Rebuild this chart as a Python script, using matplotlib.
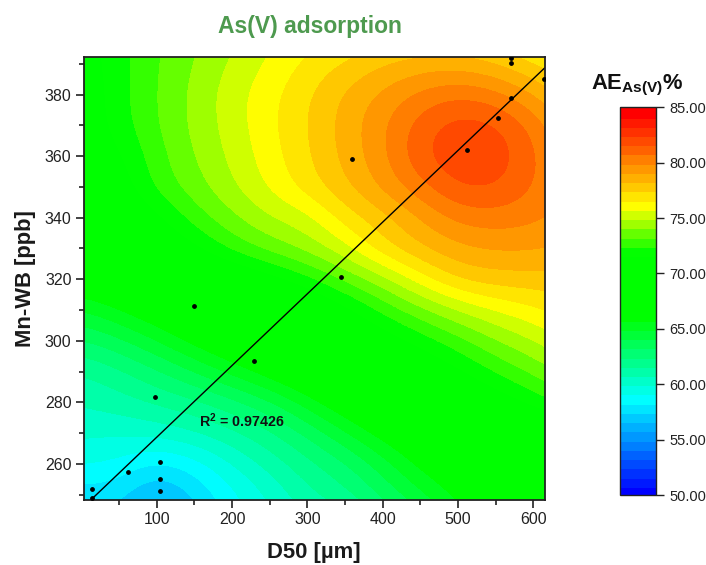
import matplotlib
matplotlib.use("Agg")
import matplotlib.pyplot as plt
import numpy as np
from matplotlib.colors import BoundaryNorm, LinearSegmentedColormap, ListedColormap
from matplotlib.ticker import MultipleLocator

plt.rcParams["font.family"] = ["Liberation Sans", "DejaVu Sans"]
plt.rcParams["mathtext.fontset"] = "custom"
plt.rcParams["mathtext.bf"] = "Liberation Sans:bold"
plt.rcParams["mathtext.rm"] = "Liberation Sans"

# surface on a regular grid, rows go bottom to top
d50 = [0, 50, 100, 150, 200, 250, 300, 350, 400, 450, 500, 550, 600, 650]
mn_wb = [240, 250, 260, 270, 280, 290, 300, 310, 320, 330, 340, 350, 360, 370, 380, 390, 400]
ae = [
    [57.5, 57.3, 55.2, 57.0, 58.7, 59.8, 60.5, 61.0, 62.3, 63.5, 65.0, 66.3, 66.8, 67.0],
    [57.8, 57.8, 56.3, 57.6, 58.9, 60.1, 61.5, 62.2, 63.5, 64.8, 66.2, 67.2, 67.7, 68.2],
    [59.3, 59.0, 58.1, 58.7, 60.0, 61.2, 62.2, 63.2, 64.6, 66.2, 67.0, 67.8, 68.4, 69.1],
    [60.2, 60.1, 60.3, 60.8, 61.5, 62.3, 63.5, 64.9, 66.3, 67.3, 68.2, 69.0, 69.8, 70.5],
    [60.9, 61.3, 61.8, 62.3, 63.0, 64.0, 65.4, 66.8, 68.0, 69.0, 70.0, 71.0, 72.0, 73.0],
    [61.6, 62.3, 63.2, 64.2, 65.3, 66.4, 67.5, 68.5, 69.5, 70.5, 71.5, 72.6, 73.5, 74.6],
    [63.2, 64.0, 65.0, 66.2, 67.2, 68.2, 69.0, 70.0, 71.0, 72.0, 73.0, 74.1, 75.0, 76.0],
    [65.0, 65.8, 66.8, 67.7, 68.5, 69.2, 70.2, 71.3, 72.7, 73.9, 75.0, 75.9, 76.5, 77.2],
    [66.8, 67.6, 68.6, 69.5, 70.3, 71.2, 72.2, 73.5, 74.7, 76.3, 77.7, 78.0, 78.0, 78.0],
    [68.5, 69.3, 70.4, 71.5, 72.8, 73.7, 74.5, 75.6, 77.3, 78.3, 79.0, 79.3, 79.3, 79.0],
    [69.5, 70.3, 71.4, 72.9, 74.0, 75.0, 75.5, 77.1, 78.0, 79.2, 80.3, 80.5, 80.2, 79.7],
    [70.0, 71.0, 72.8, 73.8, 74.9, 76.0, 77.1, 78.2, 79.4, 80.6, 81.8, 81.8, 80.85, 79.7],
    [70.5, 71.5, 73.0, 74.2, 75.2, 76.3, 77.4, 78.6, 79.8, 81.6, 82.4, 82.3, 81.0, 79.6],
    [70.8, 72.1, 73.3, 74.4, 75.4, 76.5, 77.5, 78.7, 79.9, 81.3, 82.2, 81.9, 80.7, 78.7],
    [70.8, 72.2, 73.35, 74.4, 75.5, 76.4, 77.4, 78.5, 79.4, 80.3, 80.8, 80.4, 79.2, 77.9],
    [71.0, 72.2, 73.3, 74.2, 75.15, 76.0, 76.9, 77.6, 78.3, 78.7, 78.8, 78.3, 77.5, 76.5],
    [71.2, 72.2, 73.2, 74.0, 74.8, 75.6, 76.2, 76.6, 77.0, 77.2, 77.2, 76.8, 76.0, 75.7],
]

point_x = [570.2, 570.2, 614.6, 570.0, 552.9, 511.7, 358.8, 344.7, 150.0, 229.0, 98.1, 104.4, 61.4, 104.4, 104.4, 13.6, 13.6]
point_y = [392.0, 390.3, 385.2, 378.9, 372.4, 362.1, 359.2, 320.7, 311.4, 293.5, 281.8, 260.8, 257.4, 255.2, 251.2, 252.0, 249.0]

fit_x = [15.3, 615.0]
fit_y = [249.0, 388.6]

bar_ticks = [50, 55, 60, 65, 70, 75, 80, 85]

# 42 bands, with a long flat green stretch as on the colour scale
levels = np.linspace(50, 85, 43)
centers = 0.5 * (levels[:-1] + levels[1:])
ramp = LinearSegmentedColormap.from_list(
    "ae",
    [
        ((50.4 - 50.4) / 34.2, "#0000ff"),
        ((58.75 - 50.4) / 34.2, "#00ffff"),
        ((66.25 - 50.4) / 34.2, "#00ff00"),
        ((72.08 - 50.4) / 34.2, "#00ff00"),
        ((76.25 - 50.4) / 34.2, "#ffff00"),
        (1.0, "#ff0000"),
    ],
)
cmap = ListedColormap([ramp((c - centers[0]) / (centers[-1] - centers[0])) for c in centers])
norm = BoundaryNorm(levels, cmap.N)

W, H = 706, 565
fig = plt.figure(figsize=(W / 100, H / 100), dpi=100)
ax = fig.add_axes([84 / W, 1 - 500 / H, 460.5 / W, 443 / H])
cax = fig.add_axes([619.5 / W, 1 - 495 / H, 36 / W, 387.7 / H])

# cell edges sit half a grid step outside the first and last nodes
half_x = (d50[1] - d50[0]) / 2
half_y = (mn_wb[1] - mn_wb[0]) / 2
im = ax.imshow(
    np.array(ae),
    origin="lower",
    aspect="auto",
    extent=(d50[0] - half_x, d50[-1] + half_x, mn_wb[0] - half_y, mn_wb[-1] + half_y),
    cmap=cmap,
    norm=norm,
    interpolation="bicubic",
    interpolation_stage="data",
)
ax.plot(fit_x, fit_y, color="black", linewidth=1.0)
ax.scatter(point_x, point_y, s=6, color="black", zorder=3)

ax.set_xlim(3.3, 615)
ax.set_ylim(248.3, 392.2)
ax.xaxis.set_major_locator(MultipleLocator(100))
ax.xaxis.set_minor_locator(MultipleLocator(50))
ax.yaxis.set_major_locator(MultipleLocator(20))
ax.yaxis.set_minor_locator(MultipleLocator(10))
ax.tick_params(which="major", length=6, width=1.2, labelsize=11.5, color="#222222", labelcolor="#222222", pad=3)
ax.tick_params(which="minor", length=3.5, width=1.2, color="#222222")
for spine in ax.spines.values():
    spine.set_linewidth(1.3)
    spine.set_color("#222222")

ax.set_xlabel("D50 [µm]", fontsize=15.8, fontweight="bold", color="#1a1a1a", labelpad=10.5)
ax.set_ylabel("Mn-WB [ppb]", fontsize=15.8, fontweight="bold", color="#1a1a1a", labelpad=6)
ax.text(156, 274, r"R$\mathregular{^2}$ = 0.97426", fontsize=10.3, fontweight="bold", color="#111111", va="center")

fig.text(310 / W, 1 - 27 / H, "As(V) adsorption", fontsize=16.5, fontweight="bold", color="#4e9a4f", ha="center", va="center")

cb = fig.colorbar(im, cax=cax, ticks=bar_ticks, format="%.2f", drawedges=False, spacing="proportional")
cb.solids.set_edgecolor("face")
cb.ax.minorticks_off()
cb.ax.tick_params(length=6, width=1.0, labelsize=10.5, color="#222222", labelcolor="#222222", pad=4)
cb.outline.set_linewidth(1.0)
cb.outline.set_edgecolor("#222222")

fig.text(637 / W, 1 - 85 / H, r"$\mathbf{AE_{As(V)}\%}$", fontsize=15.8, color="#111111", ha="center", va="center")

fig.savefig("out.png", dpi=100)
plt.close(fig)
